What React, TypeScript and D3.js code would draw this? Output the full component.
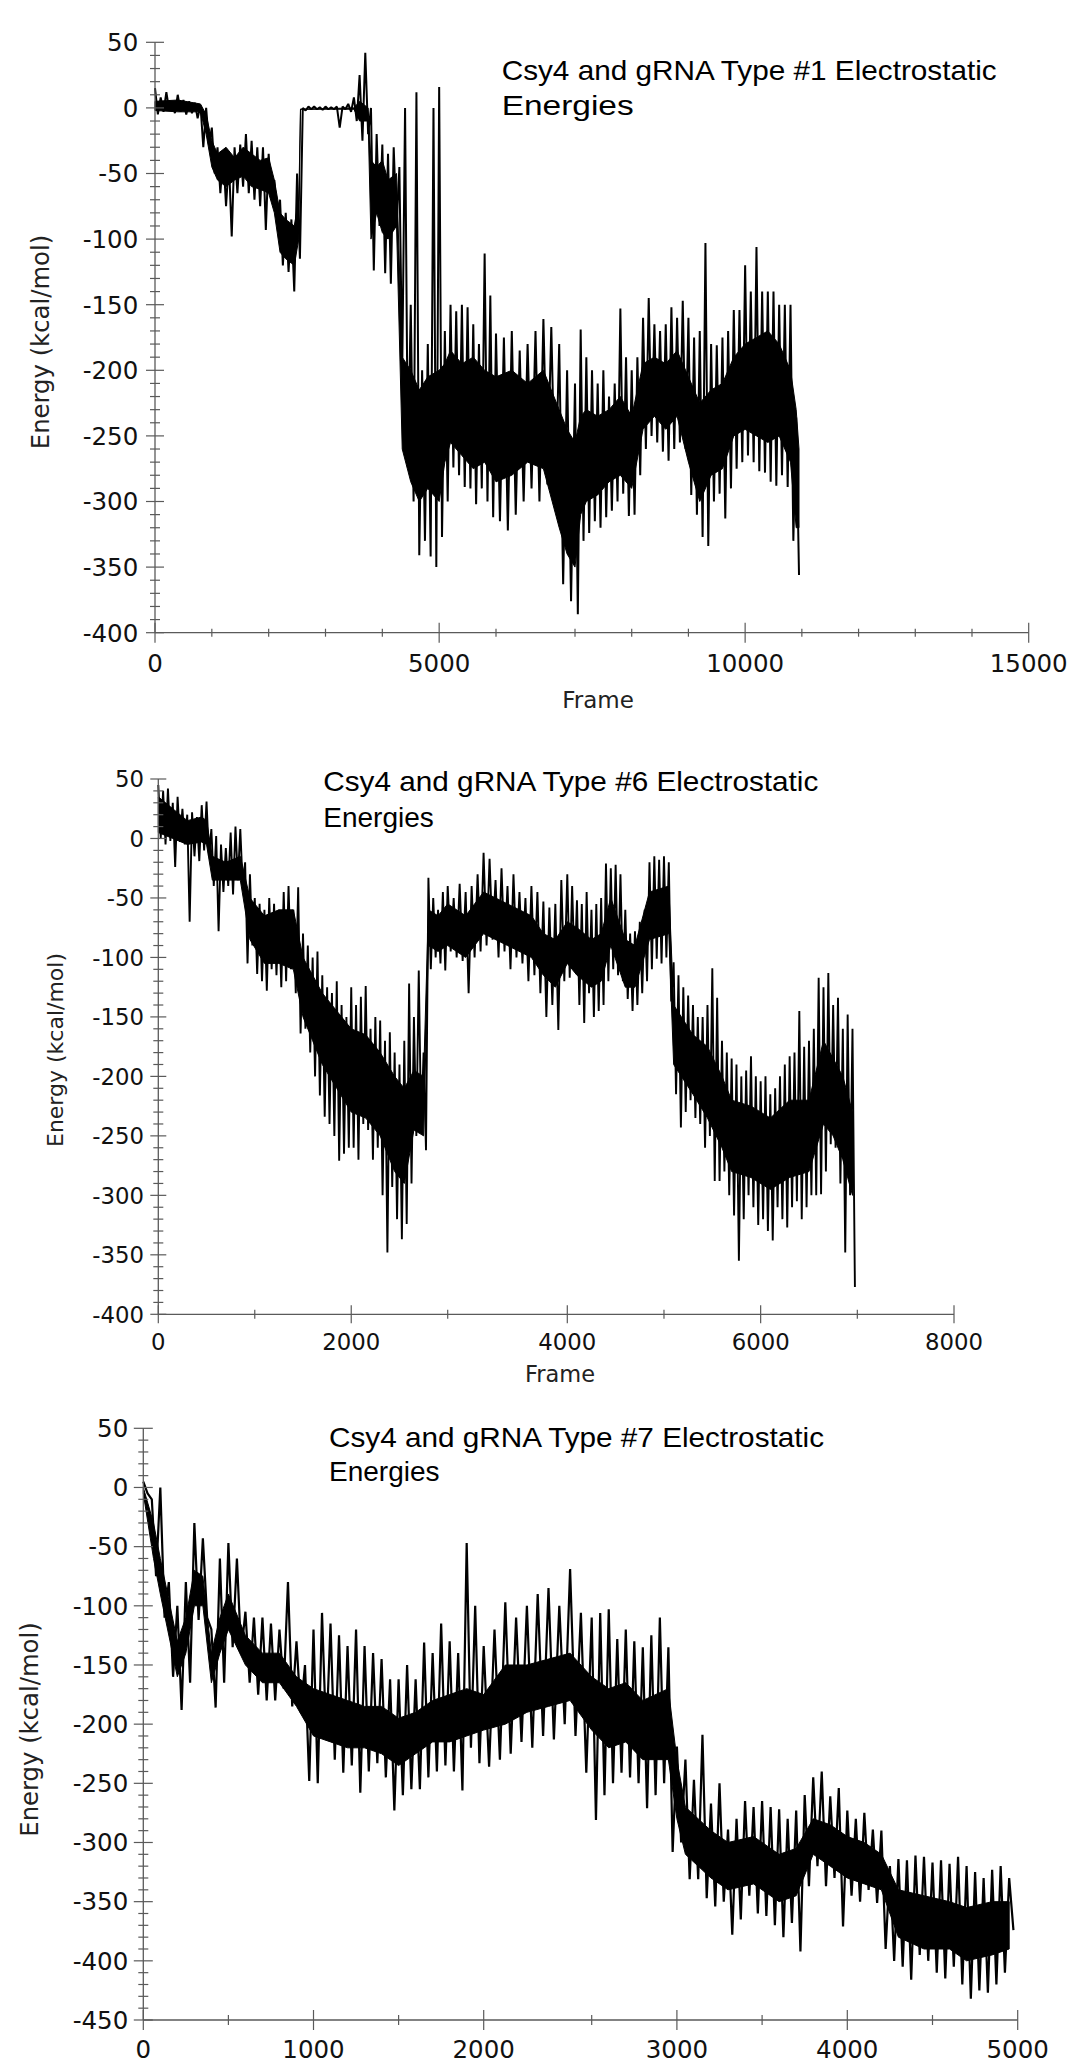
import React from "react";
import * as d3 from "d3";

// ---------- DATA ----------
// Swing envelope per bin: hi = upper swing, lo = lower swing.
const type1Step = 100; // frames per bin
const type1Hi = [
  15, 8, 12, 5, 10, 6, 5, 4, 2, 0,
  -15, -30, -35, -40, -30, -28, -20, -25, -30, -30,
  -35, -55, -70, -80, -85, -50, 0, 1, 1, 0.5,
  1, 0.5, 1, 1, 3, 8, 25, 42, 0, -20,
  -28, -35, -30, -45, 0, -150, 12, -200, -180, 0,
  16, -170, -150, -155, -150, -152, -165, -180, -111, -143,
  -172, -175, -170, -185, -180, -170, -161, -167, -180, -200,
  -210, -169, -190, -200, -210, -200, -220, -210, -153, -190,
  -200, -190, -160, -145, -165, -170, -165, -152, -160, -147,
  -160, -175, -170, -103, -180, -181, -175, -170, -154, -154,
  -120, -140, -106, -140, -140, -140, -150, -150, -150, -236,
];
const type1Lo = [
  -5, -3, -2, -4, -3, -5, -4, -8, -30, -28,
  -50, -65, -75, -98, -65, -60, -65, -70, -75, -93,
  -70, -85, -120, -125, -140, -115, -2, -1, -1, -1.5,
  -1, -1, -15, -1, -3, -10, -25, -20, -124, -90,
  -126, -134, -90, -200, -274, -300, -341, -330, -342, -350,
  -327, -300, -274, -280, -289, -290, -302, -290, -300, -312,
  -315, -322, -310, -300, -290, -300, -287, -300, -363, -376,
  -386, -330, -324, -315, -320, -312, -307, -300, -294, -311,
  -310, -280, -260, -250, -255, -262, -269, -260, -255, -260,
  -295, -310, -327, -334, -300, -294, -313, -290, -275, -270,
  -265, -270, -277, -278, -285, -288, -280, -289, -330, -356,
];
// Dense (solid-looking) body of the trace.
const type1CoreFrames = [0, 400, 800, 900, 1000, 1100, 1250, 1400, 1550, 1700, 1850, 2000, 2100, 2200, 2300, 2450, 2530, 2560, 3500, 3600, 3750, 3800, 3900, 4000, 4100, 4250, 4350, 4500, 4650, 4800, 5000, 5100, 5200, 5400, 5600, 5800, 6000, 6200, 6400, 6600, 6800, 6900, 7000, 7100, 7200, 7400, 7600, 7800, 8000, 8200, 8400, 8600, 8800, 9000, 9200, 9400, 9600, 9800, 10000, 10200, 10400, 10600, 10800, 10900, 10950];
const type1CoreTop = [5, 6, 3, -5, -25, -35, -30, -38, -30, -35, -40, -38, -55, -80, -85, -90, -70, -1, 0, 5, 0, -40, -45, -40, -55, -50, -190, -200, -215, -205, -200, -195, -185, -195, -190, -200, -205, -200, -210, -200, -230, -245, -255, -235, -230, -235, -230, -220, -235, -195, -190, -195, -185, -205, -225, -215, -210, -190, -180, -175, -170, -180, -200, -230, -260];
const type1CoreBot = [-2, -3, -3, -20, -45, -55, -60, -55, -52, -60, -62, -65, -80, -110, -115, -120, -100, -1, -1, -10, -10, -100, -80, -95, -100, -90, -260, -285, -300, -290, -300, -270, -255, -265, -275, -270, -285, -280, -270, -275, -320, -340, -350, -310, -300, -295, -285, -280, -290, -245, -235, -245, -235, -270, -300, -280, -275, -250, -245, -250, -255, -250, -270, -320, -320];

const type6Step = 50;
const type6Hi = [
  45, 40, 42, 30, 35, 25, 20, 22, 18, 28,
  31, 8, 2, -5, -8, 5, 10, 8, -20, -30,
  -50, -55, -60, -50, -55, -60, -45, -40, -60, -41,
  -80, -90, -100, -95, -115, -125, -130, -120, -140, -150,
  -125, -140, -133, -124, -160, -150, -153, -170, -163, -180,
  -190, -170, -122, -150, -111, -180, -33, -50, -60, -45,
  -40, -50, -38, -45, -40, -30, -12, -17, -35, -25,
  -40, -30, -45, -50, -40, -45, -53, -58, -55, -35,
  -30, -40, -52, -55, -45, -60, -55, -50, -21, -25,
  -22, -30, -60, -80, -78, -70, -60, -20, -15, -18,
  -15, -20, -104, -115, -125, -132, -140, -150, -150, -140,
  -109, -134, -170, -180, -185, -190, -200, -195, -183, -200,
  -204, -200, -215, -210, -200, -190, -183, -180, -145, -175,
  -170, -160, -117, -125, -113, -140, -134, -160, -148, -160,
];
const type6Lo = [
  0, -5, -2, -24, -3, -5, -70, -15, -19, -10,
  -15, -40, -78, -45, -40, -47, -35, -40, -105, -90,
  -114, -120, -128, -110, -115, -125, -120, -110, -130, -164,
  -160, -180, -200, -216, -234, -240, -250, -271, -265, -260,
  -260, -270, -240, -245, -270, -260, -300, -348, -293, -320,
  -337, -324, -290, -250, -245, -262, -110, -100, -105, -111,
  -95, -100, -103, -130, -100, -95, -90, -85, -100, -95,
  -110, -100, -105, -120, -115, -130, -150, -140, -161, -120,
  -117, -110, -140, -155, -130, -150, -145, -140, -120, -110,
  -115, -120, -135, -145, -140, -130, -120, -110, -101, -105,
  -100, -137, -215, -243, -230, -220, -235, -240, -260, -250,
  -288, -288, -280, -300, -317, -355, -320, -300, -310, -325,
  -320, -330, -338, -310, -320, -327, -310, -305, -320, -310,
  -300, -300, -299, -280, -257, -260, -290, -348, -300, -377,
];
const type6CoreFrames = [0, 150, 300, 450, 500, 560, 700, 850, 950, 1100, 1250, 1400, 1500, 1600, 1700, 1850, 2000, 2150, 2300, 2450, 2550, 2650, 2750, 2800, 2900, 3000, 3150, 3300, 3500, 3700, 3800, 3900, 4000, 4100, 4250, 4350, 4450, 4600, 4700, 4850, 5050, 5100, 5300, 5450, 5600, 5700, 5900, 6100, 6300, 6500, 6650, 6750, 6850, 6950];
const type6CoreTop = [35, 25, 15, 18, 15, -15, -20, -15, -50, -65, -60, -60, -100, -115, -130, -145, -160, -165, -180, -200, -210, -195, -200, -60, -65, -55, -65, -45, -55, -65, -80, -85, -70, -75, -85, -80, -50, -85, -90, -45, -40, -140, -165, -175, -200, -220, -225, -235, -220, -220, -170, -185, -200, -230];
const type6CoreBot = [5, 0, -5, -3, -5, -35, -35, -35, -85, -105, -105, -110, -150, -170, -190, -210, -230, -235, -250, -280, -290, -245, -250, -90, -95, -90, -100, -80, -90, -100, -115, -125, -105, -115, -125, -120, -90, -125, -125, -85, -80, -190, -215, -235, -260, -280, -285, -295, -285, -280, -240, -250, -270, -300];

const type7Step = 50;
const type7Hi = [
  5, -10, 0, -80, -100, -80, -30, -43, -120, -60,
  -47, -60, -105, -110, -110, -115, -120, -80, -130, -150,
  -120, -106, -115, -125, -134, -120, -134, -140, -145, -162,
  -162, -150, -162, -131, -140, -115, -130, -140, -47, -100,
  -134, -120, -97, -110, -100, -90, -85, -100, -69, -106,
  -110, -106, -103, -128, -120, -130, -135, -125, -110, -135,
  -219, -230, -247, -209, -267, -250, -289, -280, -265, -270,
  -265, -270, -272, -280, -273, -260, -245, -240, -261, -254,
  -273, -280, -275, -289, -290, -320, -314, -315, -311, -312,
  -317, -315, -318, -312, -320, -325, -330, -323, -320, -330,
];
const type7Lo = [
  -5, -75, -110, -160, -188, -165, -112, -110, -186, -165,
  -135, -140, -165, -175, -180, -180, -170, -185, -190, -248,
  -250, -213, -230, -241, -235, -258, -240, -233, -245, -273,
  -260, -255, -255, -245, -240, -235, -240, -256, -220, -233,
  -236, -230, -225, -215, -220, -210, -213, -200, -210, -241,
  -281, -260, -250, -241, -245, -250, -271, -260, -250, -308,
  -300, -331, -331, -347, -354, -350, -378, -365, -345, -360,
  -362, -370, -380, -368, -392, -337, -320, -337, -330, -371,
  -345, -350, -340, -351, -390, -400, -405, -416, -395, -400,
  -410, -415, -405, -420, -432, -425, -427, -420, -410, -374,
];
const type7CoreFrames = [0, 60, 100, 200, 250, 300, 350, 400, 450, 500, 600, 700, 800, 900, 1000, 1100, 1200, 1300, 1400, 1500, 1600, 1700, 1800, 1900, 2000, 2100, 2200, 2300, 2400, 2500, 2600, 2700, 2800, 2950, 3000, 3050, 3200, 3300, 3450, 3600, 3700, 3800, 3900, 4000, 4100, 4200, 4300, 4450, 4600, 4700, 4850, 4950];
const type7CoreTop = [0, -30, -60, -130, -110, -70, -75, -140, -110, -90, -125, -140, -140, -160, -170, -175, -180, -185, -185, -195, -190, -180, -175, -170, -175, -150, -150, -145, -140, -160, -170, -165, -180, -170, -230, -270, -290, -300, -295, -310, -305, -280, -285, -295, -300, -310, -340, -345, -350, -355, -350, -350];
const type7CoreBot = [-5, -60, -90, -160, -140, -100, -100, -165, -140, -120, -150, -165, -165, -185, -210, -215, -220, -220, -225, -235, -225, -215, -215, -210, -205, -200, -190, -185, -180, -205, -220, -215, -230, -230, -280, -310, -330, -340, -335, -350, -345, -310, -320, -330, -335, -340, -380, -390, -390, -400, -395, -390];

// ---------- TICKS / LABELS ----------
const energyTicksA = [50, 0, -50, -100, -150, -200, -250, -300, -350, -400];
const energyTicksB = [50, 0, -50, -100, -150, -200, -250, -300, -350, -400, -450];
const frameTicks1 = [0, 5000, 10000, 15000];
const frameTicks6 = [0, 2000, 4000, 6000, 8000];
const frameTicks7 = [0, 1000, 2000, 3000, 4000, 5000];
const titles = [
  "Csy4 and gRNA Type #1 Electrostatic",
  "Csy4 and gRNA Type #6 Electrostatic",
  "Csy4 and gRNA Type #7 Electrostatic",
];
const titleLine2 = "Energies";
const xLabel = "Frame";
const yLabel = "Energy (kcal/mol)";

const AXIS = "#5a5a5a";
const TICK_FONT = "'DejaVu Sans', Verdana, sans-serif";
const TITLE_FONT = "'Liberation Sans', Arial, Helvetica, sans-serif";

type PanelProps = {
  hi: number[];
  lo: number[];
  step: number;
  coreFrames: number[];
  coreTop: number[];
  coreBot: number[];
  lineWidth: number;
  xDomain: number[];
  xRange: number[];
  yDomain: [number, number];
  yRange: [number, number];
  xMajor: number[];
  xMinorStep: number;
  yMajor: number[];
  tickFont: number;
  xLabelBase: number;
  yLabelRight: number;
  frameLabel?: { x: number; y: number; size: number };
  yTitle: { x: number; y: number; size: number };
  title: { text: string; x: number; y1: number; y2: number; size: number; len1: number; len2?: number };
  majorLenY: number;
  minorLenY: number;
  majorLenX: number;
  minorLenX: number;
};

function Panel(p: PanelProps) {
  const x = d3.scaleLinear().domain(p.xDomain).range(p.xRange);
  const y = d3.scaleLinear().domain(p.yDomain).range(p.yRange);
  const x0 = p.xRange[0];
  const yBottom = p.yRange[0];
  const xMax = p.xDomain[p.xDomain.length - 1];

  const pts: [number, number][] = [];
  p.hi.forEach((h, i) => {
    pts.push([i * p.step, h]);
    pts.push([i * p.step + p.step / 2, p.lo[i]]);
  });
  const line = d3
    .line<[number, number]>()
    .x((d) => x(d[0]))
    .y((d) => y(d[1]));

  const core = p.coreFrames.map((f, i) => ({ f, t: p.coreTop[i], b: p.coreBot[i] }));
  const area = d3
    .area<{ f: number; t: number; b: number }>()
    .x((d) => x(d.f))
    .y0((d) => y(d.b))
    .y1((d) => y(d.t));

  const yMinor = d3.range(p.yDomain[0], p.yDomain[1] + 0.001, 10).filter((v) => v % 50 !== 0);
  const xMinor = d3
    .range(0, xMax + 0.001, p.xMinorStep)
    .filter((v) => !p.xMajor.includes(v));

  return (
    <g>
      <path d={area(core) || ""} fill="#000" stroke="#000" strokeWidth={1} />
      <path d={line(pts) || ""} fill="none" stroke="#000" strokeWidth={p.lineWidth} strokeLinejoin="bevel" />
      {/* y axis */}
      <line x1={x0} x2={x0} y1={y(p.yDomain[1])} y2={yBottom} stroke={AXIS} strokeWidth={1.3} />
      {yMinor.map((v) => (
        <line key={"ym" + v} x1={x0 - p.minorLenY} x2={x0 + p.minorLenY} y1={y(v)} y2={y(v)} stroke={AXIS} strokeWidth={1.2} />
      ))}
      {p.yMajor.map((v) => (
        <g key={"yM" + v}>
          <line x1={x0 - p.majorLenY} x2={x0 + p.majorLenY} y1={y(v)} y2={y(v)} stroke={AXIS} strokeWidth={1.2} />
          <text x={p.yLabelRight} y={y(v)} dy="0.36em" textAnchor="end" fontFamily={TICK_FONT} fontSize={p.tickFont} fill="#111">
            {v}
          </text>
        </g>
      ))}
      {/* x axis */}
      <line x1={x0} x2={x(xMax)} y1={yBottom} y2={yBottom} stroke={AXIS} strokeWidth={1.3} />
      {xMinor.map((v) => (
        <line key={"xm" + v} x1={x(v)} x2={x(v)} y1={yBottom - p.minorLenX} y2={yBottom + p.minorLenX} stroke={AXIS} strokeWidth={1.2} />
      ))}
      {p.xMajor.map((v) => (
        <g key={"xM" + v}>
          <line x1={x(v)} x2={x(v)} y1={yBottom - p.majorLenX} y2={yBottom + p.majorLenX} stroke={AXIS} strokeWidth={1.2} />
          <text x={x(v)} y={p.xLabelBase} textAnchor="middle" fontFamily={TICK_FONT} fontSize={p.tickFont} fill="#111">
            {v}
          </text>
        </g>
      ))}
      {p.frameLabel && (
        <text x={p.frameLabel.x} y={p.frameLabel.y} textAnchor="middle" fontFamily={TICK_FONT} fontSize={p.frameLabel.size} fill="#222">
          {xLabel}
        </text>
      )}
      <text
        transform={`translate(${p.yTitle.x},${p.yTitle.y}) rotate(-90)`}
        textAnchor="middle"
        fontFamily={TICK_FONT}
        fontSize={p.yTitle.size}
        fill="#222"
      >
        {yLabel}
      </text>
      <text
        x={p.title.x}
        y={p.title.y1}
        fontFamily={TITLE_FONT}
        fontSize={p.title.size}
        fill="#000"
        textLength={p.title.len1}
        lengthAdjust="spacingAndGlyphs"
      >
        {p.title.text}
      </text>
      <text
        x={p.title.x}
        y={p.title.y2}
        fontFamily={TITLE_FONT}
        fontSize={p.title.size}
        fill="#000"
        {...(p.title.len2 ? { textLength: p.title.len2, lengthAdjust: "spacingAndGlyphs" } : {})}
      >
        {titleLine2}
      </text>
    </g>
  );
}

export default function App() {
  return (
    <svg
      width={1090}
      height={2069}
      viewBox="0 0 1090 2069"
      style={{ position: "absolute", left: 0, top: 0, background: "#fff" }}
    >
      <rect x={0} y={0} width={1090} height={2069} fill="#fff" />
      <Panel
        hi={type1Hi}
        lo={type1Lo}
        step={type1Step}
        coreFrames={type1CoreFrames}
        coreTop={type1CoreTop}
        coreBot={type1CoreBot}
        lineWidth={2.0}
        xDomain={[0, 6000, 7000, 15000]}
        xRange={[155, 496, 575, 1028.7]}
        yDomain={[-400, 50]}
        yRange={[632.7, 42.3]}
        xMajor={frameTicks1}
        xMinorStep={1000}
        yMajor={energyTicksA}
        tickFont={24.5}
        xLabelBase={671.7}
        yLabelRight={138.3}
        frameLabel={{ x: 598, y: 707.5, size: 23 }}
        yTitle={{ x: 49, y: 342, size: 24.3 }}
        title={{ text: titles[0], x: 501.7, y1: 80, y2: 115, size: 28, len1: 495, len2: 132 }}
        majorLenY={9}
        minorLenY={5}
        majorLenX={10}
        minorLenX={4}
      />
      <Panel
        hi={type6Hi}
        lo={type6Lo}
        step={type6Step}
        coreFrames={type6CoreFrames}
        coreTop={type6CoreTop}
        coreBot={type6CoreBot}
        lineWidth={1.9}
        xDomain={[0, 3000, 4000, 8000]}
        xRange={[158.3, 447.7, 567.3, 954]}
        yDomain={[-400, 50]}
        yRange={[1314.3, 779]}
        xMajor={frameTicks6}
        xMinorStep={1000}
        yMajor={energyTicksA}
        tickFont={22.8}
        xLabelBase={1350}
        yLabelRight={144}
        frameLabel={{ x: 560, y: 1382, size: 22.5 }}
        yTitle={{ x: 63, y: 1050, size: 22 }}
        title={{ text: titles[1], x: 323.3, y1: 790.7, y2: 826.7, size: 28, len1: 495 }}
        majorLenY={8}
        minorLenY={5}
        majorLenX={9}
        minorLenX={4.5}
      />
      <Panel
        hi={type7Hi}
        lo={type7Lo}
        step={type7Step}
        coreFrames={type7CoreFrames}
        coreTop={type7CoreTop}
        coreBot={type7CoreBot}
        lineWidth={2.2}
        xDomain={[0, 2000, 2500, 5000]}
        xRange={[143.3, 483.7, 591.7, 1017.7]}
        yDomain={[-450, 50]}
        yRange={[2020, 1428.3]}
        xMajor={frameTicks7}
        xMinorStep={500}
        yMajor={energyTicksB}
        tickFont={24.5}
        xLabelBase={2058.3}
        yLabelRight={128.3}
        yTitle={{ x: 38, y: 1729.5, size: 24.3 }}
        title={{ text: titles[2], x: 329, y1: 1446.7, y2: 1481, size: 28, len1: 495 }}
        majorLenY={9.5}
        minorLenY={5}
        majorLenX={10}
        minorLenX={5}
      />
    </svg>
  );
}
